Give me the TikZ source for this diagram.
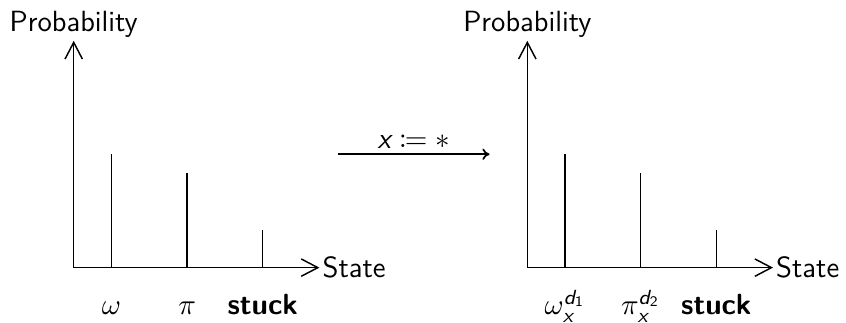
\documentclass[tikz,border=0pt]{standalone}
\usepackage{amsmath,mathtools}
\usepackage{tikz}
\usetikzlibrary{arrows.meta}
\renewcommand{\familydefault}{\sfdefault}
\newcommand{\sv}[1]{\textsf{\itshape #1}}
\tikzset{
  ax/.style={line width=0.55pt,-{Straight Barb[length=2.2mm,width=2.3mm,line width=0.55pt]}},
  bar/.style={line width=0.55pt},
  tr/.style={line width=0.65pt,-{To[length=0.95mm,width=1.5mm]}},
  lbl/.style={font=\fontsize{11}{13.5}\selectfont,inner sep=1pt},
  tick/.style={lbl,anchor=base},
}

\begin{document}
\begin{tikzpicture}[x=0.5cm,y=0.5cm]
\useasboundingbox (-1.95,-1.46) rectangle (20.43,7.08);
% before
\coordinate (O) at (0,0); \coordinate (Ytop) at (0,6); \coordinate (Xend) at (6.5,0);
\draw[ax] (O)--(Ytop); \draw[ax] (O)--(Xend);
\node[lbl,above] (prob) at (Ytop){Probability};
\node[lbl,right] (state) at (Xend){State};
\foreach \i/\h in {1/3,3/2.5,5/1}{
  \coordinate (b\i) at (\i,0); \coordinate (t\i) at (\i,\h);
  \draw[bar] (b\i)--(t\i);
}
\node[tick] (w) at (1,-1.25){$\omega$}; \node[tick] (p) at (3,-1.25){$\pi$};
\node[tick] (s) at (5,-1.25){\bfseries stuck};
% transition
\coordinate (A) at (7,3); \coordinate (B) at (11,3);
\draw[tr] (A)--node[lbl,above=1pt]{$\sv{x}\coloneqq\ast$}(B);
% after
\coordinate (rO) at (12,0); \coordinate (rYtop) at (12,6); \coordinate (rXend) at (18.5,0);
\draw[ax] (rO)--(rYtop); \draw[ax] (rO)--(rXend);
\node[lbl,above] (rprob) at (rYtop){Probability};
\node[lbl,right] (rstate) at (rXend){State};
\foreach \i/\h in {13/3,15/2.5,17/1}{
  \coordinate (b\i) at (\i,0); \coordinate (t\i) at (\i,\h);
  \draw[bar] (b\i)--(t\i);
}
\node[tick] (rw) at (13,-1.25){$\omega_{\sv{x}}^{\sv{d}_{\textsf{1}}}$};
\node[tick] (rp) at (15,-1.25){$\pi_{\sv{x}}^{\sv{d}_{\textsf{2}}}$};
\node[tick] (rs) at (17,-1.25){\bfseries stuck};
\end{tikzpicture}
\end{document}
